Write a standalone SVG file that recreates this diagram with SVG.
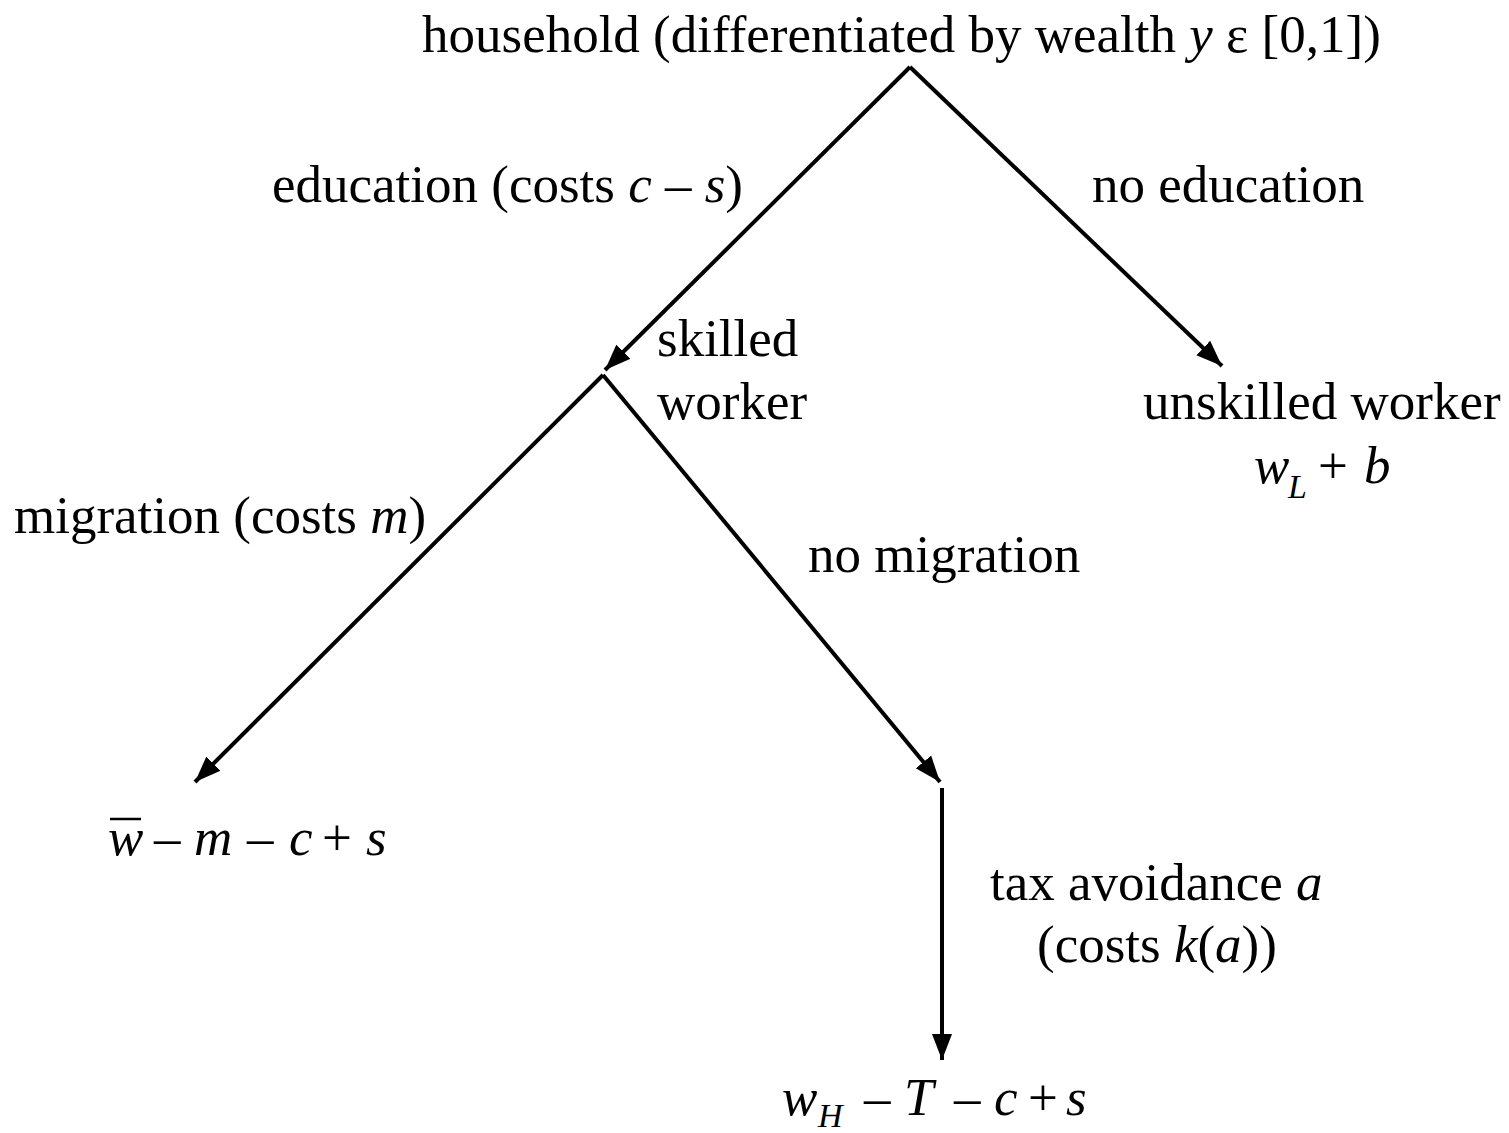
<svg xmlns="http://www.w3.org/2000/svg" width="1509" height="1133" viewBox="0 0 1509 1133">
<style>
text{font-family:"Liberation Serif","Times New Roman",serif;font-size:53px;fill:#000}
.i{font-style:italic}
.sub{font-size:34px;font-style:italic}
.e{stroke:#000;stroke-width:4;fill:none}
</style>
<defs>
<marker id="ah" markerUnits="userSpaceOnUse" markerWidth="30" markerHeight="24" refX="26" refY="12" orient="auto">
<path d="M0,2 L26,12 L0,22 Z" fill="#000"/>
</marker>
</defs>
<rect width="1509" height="1133" fill="#fff"/>
<g id="connectors">
<path class="e" d="M910,67 L605,370" marker-end="url(#ah)"/>
<path class="e" d="M910,67 L1222,366" marker-end="url(#ah)"/>
<path class="e" d="M603,375 L195,782" marker-end="url(#ah)"/>
<path class="e" d="M603,375 L940,782" marker-end="url(#ah)"/>
<path class="e" d="M942,788 L942,1060" stroke-width="5" marker-end="url(#ah)"/>
</g>
<g id="household"><text x="422" y="52">household (differentiated by wealth <tspan class="i">y</tspan> ε [0,1])</text></g>
<g id="edu-label"><text x="272" y="202">education (costs <tspan class="i">c</tspan> – <tspan class="i">s</tspan>)</text></g>
<g id="noedu-label"><text x="1092" y="202">no education</text></g>
<g id="skilled"><text x="657" y="356">skilled</text><text x="657" y="419">worker</text></g>
<g id="unskilled"><text x="1143" y="419">unskilled worker</text>
<text x="1254" y="483" class="i">w</text><text x="1288" y="498" class="sub">L</text><text x="1318" y="483">+</text><text x="1364" y="483" class="i">b</text></g>
<g id="mig-label"><text x="14" y="533">migration (costs <tspan class="i">m</tspan>)</text></g>
<g id="nomig-label"><text x="808" y="572">no migration</text></g>
<g id="migrate"><text x="108" y="855" class="i">w</text><line x1="110" y1="819" x2="141" y2="819" stroke="#000" stroke-width="2.5"/>
<text x="154" y="855">–</text><text x="194" y="855" class="i">m</text><text x="247" y="855">–</text><text x="289" y="855" class="i">c</text><text x="322" y="855">+</text><text x="366" y="855" class="i">s</text></g>
<g id="tax-label"><text x="990" y="900">tax avoidance <tspan class="i">a</tspan></text><text x="1037" y="962">(costs <tspan class="i">k</tspan>(<tspan class="i">a</tspan>))</text></g>
<g id="stay"><text x="782" y="1115" class="i">w</text><text x="818" y="1127" class="sub">H</text><text x="864" y="1115">–</text><text x="904" y="1115" class="i">T</text><text x="954" y="1115">–</text><text x="994" y="1115" class="i">c</text><text x="1028" y="1115">+</text><text x="1066" y="1115" class="i">s</text></g>
</svg>
